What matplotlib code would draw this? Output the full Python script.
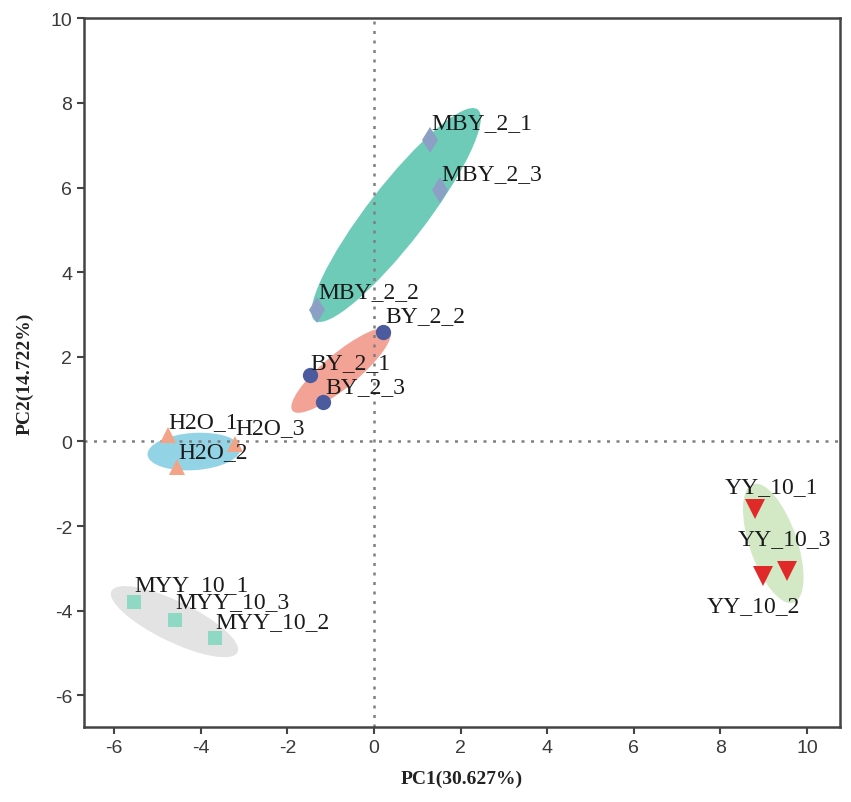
import matplotlib
matplotlib.use("Agg")
import matplotlib.pyplot as plt
from matplotlib.patches import Ellipse

plt.rcParams["axes.unicode_minus"] = False

# ---- data ----
groups = ["MBY", "BY", "H2O", "MYY", "YY"]
sample_names = {
    "MBY": ["MBY_2_1", "MBY_2_3", "MBY_2_2"],
    "BY": ["BY_2_2", "BY_2_1", "BY_2_3"],
    "H2O": ["H2O_1", "H2O_3", "H2O_2"],
    "MYY": ["MYY_10_1", "MYY_10_3", "MYY_10_2"],
    "YY": ["YY_10_1", "YY_10_3", "YY_10_2"],
}
pc1 = {
    "MBY": [1.29, 1.52, -1.32],
    "BY": [0.21, -1.48, -1.18],
    "H2O": [-4.76, -3.21, -4.55],
    "MYY": [-5.54, -4.60, -3.67],
    "YY": [8.80, 9.54, 8.98],
}
pc2 = {
    "MBY": [7.12, 5.94, 3.11],
    "BY": [2.59, 1.56, 0.92],
    "H2O": [0.14, -0.07, -0.61],
    "MYY": [-3.80, -4.22, -4.65],
    "YY": [-1.60, -3.07, -3.18],
}
# ellipse: center x, center y, major, minor, angle (deg)
ell_cx = {"MBY": 0.51, "BY": -0.76, "H2O": -4.16, "MYY": -4.61, "YY": 9.22}
ell_cy = {"MBY": 5.35, "BY": 1.68, "H2O": -0.24, "MYY": -4.26, "YY": -2.41}
ell_major = {"MBY": 6.25, "BY": 2.95, "H2O": 2.15, "MYY": 3.25, "YY": 2.95}
ell_minor = {"MBY": 1.35, "BY": 0.80, "H2O": 0.88, "MYY": 0.95, "YY": 1.10}
ell_angle = {"MBY": 53.0, "BY": 40.5, "H2O": 4.0, "MYY": -26.5, "YY": -71.6}

# ---- styles ----
ell_color = {"MBY": "#6dcbb8", "BY": "#f2a395", "H2O": "#93d3e6",
             "MYY": "#e3e3e3", "YY": "#d3e9c6"}
mk = {"MBY": "d", "BY": "o", "H2O": "^", "MYY": "s", "YY": "v"}
mk_color = {"MBY": "#8c9fc4", "BY": "#4b5b9e", "H2O": "#f4a486",
            "MYY": "#8fd9c4", "YY": "#e02a2a"}
mk_size = {"MBY": 13, "BY": 11, "H2O": 12, "MYY": 10, "YY": 14}
# label offsets in pixels (dx, dy)
lab_off = {
    "MBY_2_1": (1, 18), "MBY_2_3": (1, 17), "MBY_2_2": (1, 18),
    "BY_2_2": (2, 16), "BY_2_1": (0, 13), "BY_2_3": (2, 16),
    "H2O_1": (0, 14), "H2O_3": (0, 17), "H2O_2": (1, 16),
    "MYY_10_1": (0, 18), "MYY_10_3": (0, 18), "MYY_10_2": (0, 17),
    "YY_10_1": (-30, 23), "YY_10_3": (-49, 33), "YY_10_2": (-56, -30),
}

fig = plt.figure(figsize=(8.51, 8.03), dpi=100)
ax = fig.add_axes([0.0987, 0.0934, 0.8883, 0.8826])

for g in groups:
    e = Ellipse((ell_cx[g], ell_cy[g]), ell_major[g], ell_minor[g],
                angle=ell_angle[g], facecolor=ell_color[g], edgecolor="none",
                zorder=1)
    ax.add_patch(e)

ax.axhline(0, color="#808080", ls=(0, (1.2, 2.6)), lw=1.8, zorder=2)
ax.axvline(0, color="#808080", ls=(0, (1.2, 2.6)), lw=1.8, zorder=2)

for g in groups:
    ax.plot(pc1[g], pc2[g], ls="none", marker=mk[g], color=mk_color[g],
            markersize=mk_size[g], markeredgewidth=0, zorder=3)
    for name, x, y in zip(sample_names[g], pc1[g], pc2[g]):
        dx, dy = lab_off[name]
        ax.annotate(name, (x, y), xytext=(dx, dy), textcoords="offset pixels",
                    ha="left", va="center", fontsize=17,
                    family="Liberation Serif", color="#1a1a1a", zorder=4)

ax.set_xlim(-6.7, 10.76)
ax.set_ylim(-6.75, 10)
ax.set_xticks([-6, -4, -2, 0, 2, 4, 6, 8, 10])
ax.set_yticks([-6, -4, -2, 0, 2, 4, 6, 8, 10])
ax.tick_params(direction="out", length=5, width=1.5, color="#444444",
               labelsize=14, labelcolor="#3a3a3a")
for lab in ax.get_xticklabels() + ax.get_yticklabels():
    lab.set_family("Liberation Sans")
for s in ax.spines.values():
    s.set_color("#444444")
    s.set_linewidth(1.8)

ax.set_xlabel("PC1(30.627%)", family="Liberation Serif", fontweight="bold",
              fontsize=14, color="#222222", labelpad=10)
ax.set_ylabel("PC2(14.722%)", family="Liberation Serif", fontweight="bold",
              fontsize=14, color="#222222", labelpad=12)

fig.savefig("out.png", dpi=100)
